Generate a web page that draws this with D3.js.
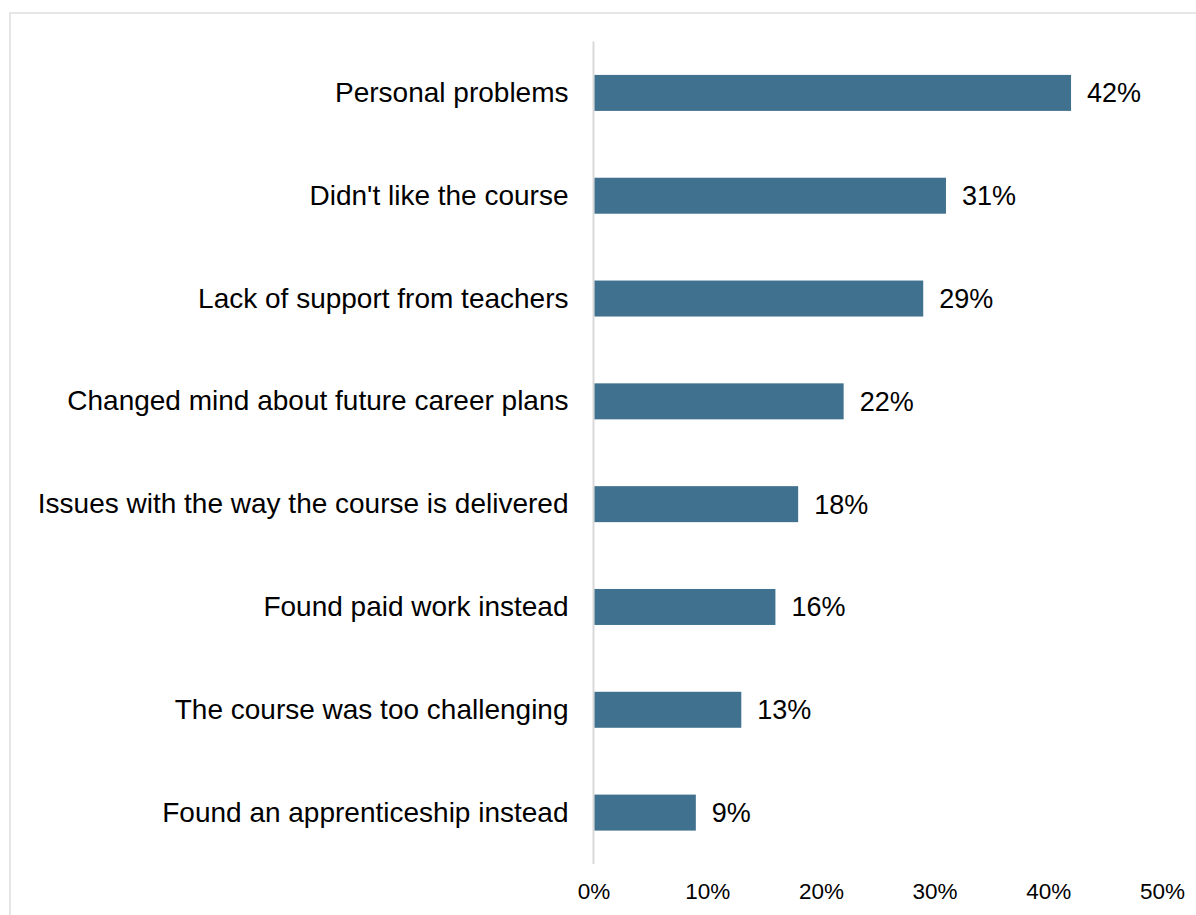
<!DOCTYPE html>
<html>
<head>
<meta charset="utf-8">
<script src="https://cdn.jsdelivr.net/npm/d3@7"></script>
<style>
  html, body { margin: 0; padding: 0; background: #fff; }
  svg { display: block; font-family: Arial, "Liberation Sans", sans-serif; }
</style>
</head>
<body>
<svg id="chart" width="1196" height="915"></svg>
<script>
// Reasons for leaving the course (share of respondents, %)
const categories = [
  "Personal problems",
  "Didn't like the course",
  "Lack of support from teachers",
  "Changed mind about future career plans",
  "Issues with the way the course is delivered",
  "Found paid work instead",
  "The course was too challenging",
  "Found an apprenticeship instead"
];
const values = [42, 31, 29, 22, 18, 16, 13, 9];
const tickValues = [0, 10, 20, 30, 40, 50];
const tickLabels = ["0%", "10%", "20%", "30%", "40%", "50%"];

const data = categories.map((c, i) => ({ category: c, value: values[i] }));

const svg = d3.select("#chart");
const W = 1196, H = 915;

// Outer frame
svg.append("rect")
  .attr("x", 10).attr("y", 13)
  .attr("width", W + 20).attr("height", H + 20)
  .attr("fill", "#fff")
  .attr("stroke", "#dedede")
  .attr("stroke-width", 1.5);

const x = d3.scaleLinear().domain([0, 50]).range([593.5, 1162]);
const y = d3.scaleBand().domain(categories).range([41.5, 864]).paddingInner(0.65).paddingOuter(0.325);

// Vertical category axis line
svg.append("line")
  .attr("x1", x(0)).attr("x2", x(0))
  .attr("y1", 41.5).attr("y2", 864)
  .attr("stroke", "#d9d9d9").attr("stroke-width", 2);

// Bars
svg.append("g").selectAll("rect")
  .data(data)
  .join("rect")
  .attr("x", x(0) + 1)
  .attr("y", d => y(d.category))
  .attr("width", d => x(d.value) - x(0) - 1)
  .attr("height", y.bandwidth())
  .attr("fill", "#40718f");

// Value labels
svg.append("g").selectAll("text")
  .data(data)
  .join("text")
  .attr("x", d => x(d.value) + 16)
  .attr("y", d => y(d.category) + y.bandwidth() / 2)
  .attr("dy", "0.35em")
  .attr("font-size", 27)
  .attr("fill", "#000")
  .text(d => d.value + "%");

// Category labels
const yAxis = d3.axisLeft(y).tickSize(0).tickPadding(25);
const gy = svg.append("g").attr("transform", `translate(${x(0)},0)`).call(yAxis);
gy.select(".domain").remove();
gy.selectAll("text")
  .attr("font-size", 28)
  .attr("font-family", "Arial, 'Liberation Sans', sans-serif")
  .attr("fill", "#000");

// Value axis tick labels
const xAxis = d3.axisBottom(x).tickValues(tickValues).tickSize(0).tickPadding(0)
  .tickFormat((d, i) => tickLabels[i]);
const gx = svg.append("g").attr("transform", `translate(0,891)`).call(xAxis);
gx.select(".domain").remove();
gx.selectAll("text")
  .attr("dy", "0.35em")
  .attr("font-size", 22.5)
  .attr("font-family", "Arial, 'Liberation Sans', sans-serif")
  .attr("fill", "#000");
</script>
</body>
</html>
